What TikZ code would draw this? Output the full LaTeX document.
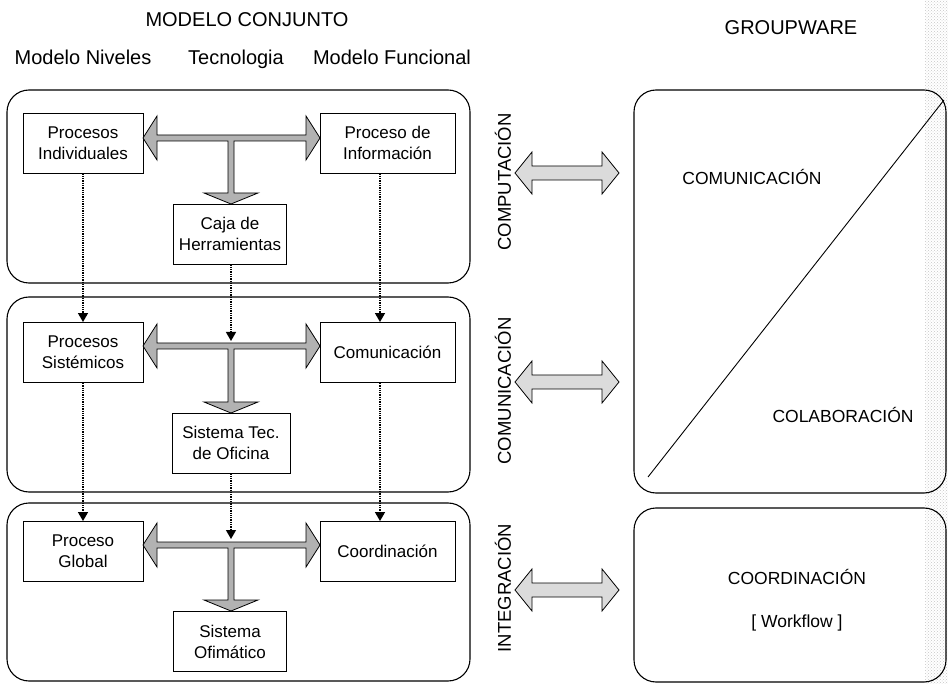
\documentclass[tikz,border=0pt]{standalone}
\usepackage{fontspec}
\setmainfont{Liberation Sans}
\usetikzlibrary{arrows.meta,patterns}
\newcommand\flechaT[2]{%
\filldraw[tee](143,#1)--(157,#1-22)--(157,#1-3)--(306,#1-3)--(306,#1-22)--(320,#1)--(306,#1+22)--(306,#1+3)
--(234,#1+3)--(234,#2-11)--(258,#2-11)--(231,#2)--(204,#2-11)--(228,#2-11)--(228,#1+3)--(157,#1+3)--(157,#1+22)--cycle;}
\newcommand\flechaD[1]{%
\filldraw[doble](515,#1)--(532,#1-21)--(532,#1-7)--(602,#1-7)--(602,#1-21)--(619,#1)--(602,#1+21)--(602,#1+7)
--(532,#1+7)--(532,#1+21)--cycle;}
\begin{document}
\begin{tikzpicture}[x=1pt,y=-1pt,
  caja/.style={draw,line width=0.9pt,minimum height=60,inner sep=2pt,align=center,font=\fontsize{17}{21}\selectfont},
  grande/.style={draw,line width=1.1pt,rounded corners=22},
  punteada/.style={densely dotted,line width=1.3pt,-{Triangle[width=10pt,length=9pt]}},
  tee/.style={draw,fill=gray!60,line width=0.8pt,line join=miter},
  doble/.style={draw,fill=gray!28,line width=0.8pt,line join=miter},
  nivel/.style={rotate=90,font=\fontsize{18.5}{20}\selectfont},
  titulo/.style={anchor=base,font=\fontsize{20}{24}\selectfont},
  rotulo/.style={font=\fontsize{17.5}{20}\selectfont}]
\useasboundingbox (0,0) rectangle (948,684);
\fill[pattern=crosshatch dots,pattern color=gray!45] (925,0) rectangle (948,684);

\node[titulo] (mc) at (247,27) {MODELO CONJUNTO};
\node[titulo] (gw) at (791,35) {GROUPWARE};
\node[titulo] (mn) at (83,65) {Modelo Niveles};
\node[titulo] (tc) at (236,65) {Tecnologia};
\node[titulo] (mf) at (392,65) {Modelo Funcional};

\draw[grande] (7,90) rectangle (470,283);
\draw[grande] (7,297) rectangle (470,492);
\draw[grande] (7,503) rectangle (470,681);
\draw[grande] (634,90) rectangle (946,493);
\draw[grande] (634,508) rectangle (946,682);
\draw[line width=0.9pt] (944,100)--(648,477);

\node[caja,minimum width=120] (pi) at (83,143) {Procesos\\Individuales};
\node[caja,minimum width=135] (pf) at (387.5,143) {Proceso de\\Información};
\node[caja,minimum width=113] (ch) at (230,234) {Caja de\\Herramientas};
\node[caja,minimum width=120] (ps) at (83,352.5) {Procesos\\Sistémicos};
\node[caja,minimum width=135] (co) at (387.5,352.5) {Comunicación};
\node[caja,minimum width=118] (st) at (231,443) {Sistema Tec.\\de Oficina};
\node[caja,minimum width=120] (pg) at (83,551.5) {Proceso\\Global};
\node[caja,minimum width=135] (cd) at (387.5,551.5) {Coordinación};
\node[caja,minimum width=113] (so) at (230,641.5) {Sistema\\Ofimático};

\flechaT{138}{204}
\flechaT{346}{413}
\flechaT{545}{611}

\coordinate (n2) at (231,341);
\coordinate (n3) at (231,539);
\draw[punteada] (pi.south)--(ps.north);
\draw[punteada] ([xshift=-7.5]pf.south)--([xshift=-7.5]co.north);
\draw[punteada] (ch.south-|n2)--(n2);
\draw[punteada] (ps.south)--(pg.north);
\draw[punteada] ([xshift=-7.5]co.south)--([xshift=-7.5]cd.north);
\draw[punteada] (st.south-|n3)--(n3);

\node[nivel] (lc) at (503,182) {COMPUTACIÓN};
\node[nivel] (lm) at (503,391) {COMUNICACIÓN};
\node[nivel] (li) at (503,588) {INTEGRACIÓN};
\flechaD{173}
\flechaD{382}
\flechaD{590}

\node[rotulo] (rc) at (752,177) {COMUNICACIÓN};
\node[rotulo] (rb) at (843,415) {COLABORACIÓN};
\node[rotulo] (rd) at (797,577) {COORDINACIÓN};
\node[rotulo] (rw) at (797,623) {[ Workflow ]};
\end{tikzpicture}
\end{document}
